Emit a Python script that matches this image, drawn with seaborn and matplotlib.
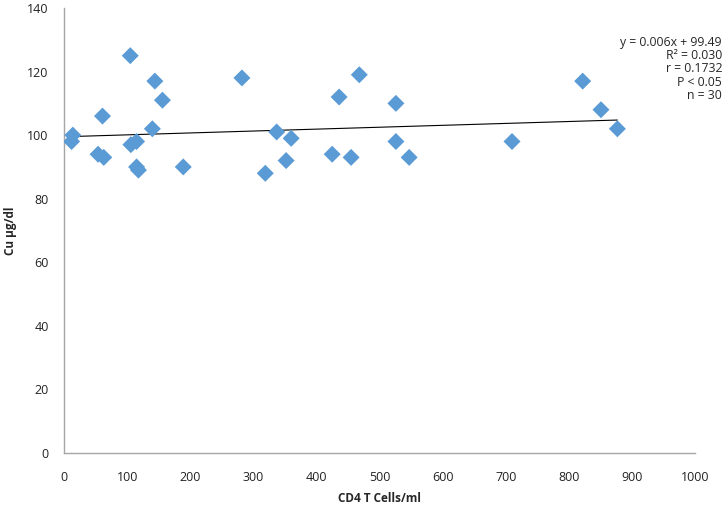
import numpy as np
import pandas as pd
import matplotlib
matplotlib.use('Agg')
import matplotlib.pyplot as plt
import seaborn as sns

# values
cd4 = [12, 14, 54, 63, 61, 105, 106, 115, 115, 118, 140, 144, 156, 189, 282,
       319, 337, 352, 360, 425, 436, 455, 468, 526, 526, 547, 710, 822, 851, 877]
cu = [98, 100, 94, 93, 106, 125, 97, 98, 90, 89, 102, 117, 111, 90, 118,
      88, 101, 92, 99, 94, 112, 93, 119, 98, 110, 93, 98, 117, 108, 102]

# reported trendline
slope = 0.006
intercept = 99.49
stats_lines = ['y = 0.006x + 99.49', 'R² = 0.030', 'r = 0.1732', 'P < 0.05', 'n = 30']

df = pd.DataFrame({'cd4': cd4, 'cu': cu})

sns.set_style('white')
plt.rcParams['font.family'] = ['Open Sans', 'DejaVu Sans']

W, H = 725, 516
fig = plt.figure(figsize=(7.25, 5.16), dpi=100)
ax = fig.add_axes([64 / W, 1 - 453 / H, (695 - 64) / W, (453 - 8) / H])

sns.scatterplot(data=df, x='cd4', y='cu', marker='D', s=75, color='#5B9BD5',
                edgecolor='none', ax=ax, zorder=3)

xs = np.array([min(cd4), max(cd4)])
ax.plot(xs, slope * xs + intercept, color='black', lw=0.8, zorder=2)

ax.set_xlim(0, 1000)
ax.set_ylim(0, 140)
ax.set_xticks(range(0, 1001, 100))
ax.set_yticks(range(0, 141, 20))
ax.tick_params(length=0, labelsize=9, colors='#222222')
ax.tick_params(axis='x', pad=13)
ax.tick_params(axis='y', pad=11)

for s in ['top', 'right']:
    ax.spines[s].set_visible(False)
for s in ['left', 'bottom']:
    ax.spines[s].set_color('#a6a6a6')
    ax.spines[s].set_linewidth(1)

ax.set_xlabel('CD4 T Cells/ml', fontsize=8.5, fontweight='bold')
ax.xaxis.set_label_coords(0.5, -0.088)
ax.set_ylabel('Cu µg/dl', fontsize=8.5, fontweight='bold')
ax.yaxis.set_label_coords(-0.074, 0.5)

fig.text(722 / W, 1 - 36 / H, '\n'.join(stats_lines),
         ha='right', va='top', fontsize=8.8, linespacing=1.02, multialignment='right')

fig.savefig('out.png', dpi=100)
